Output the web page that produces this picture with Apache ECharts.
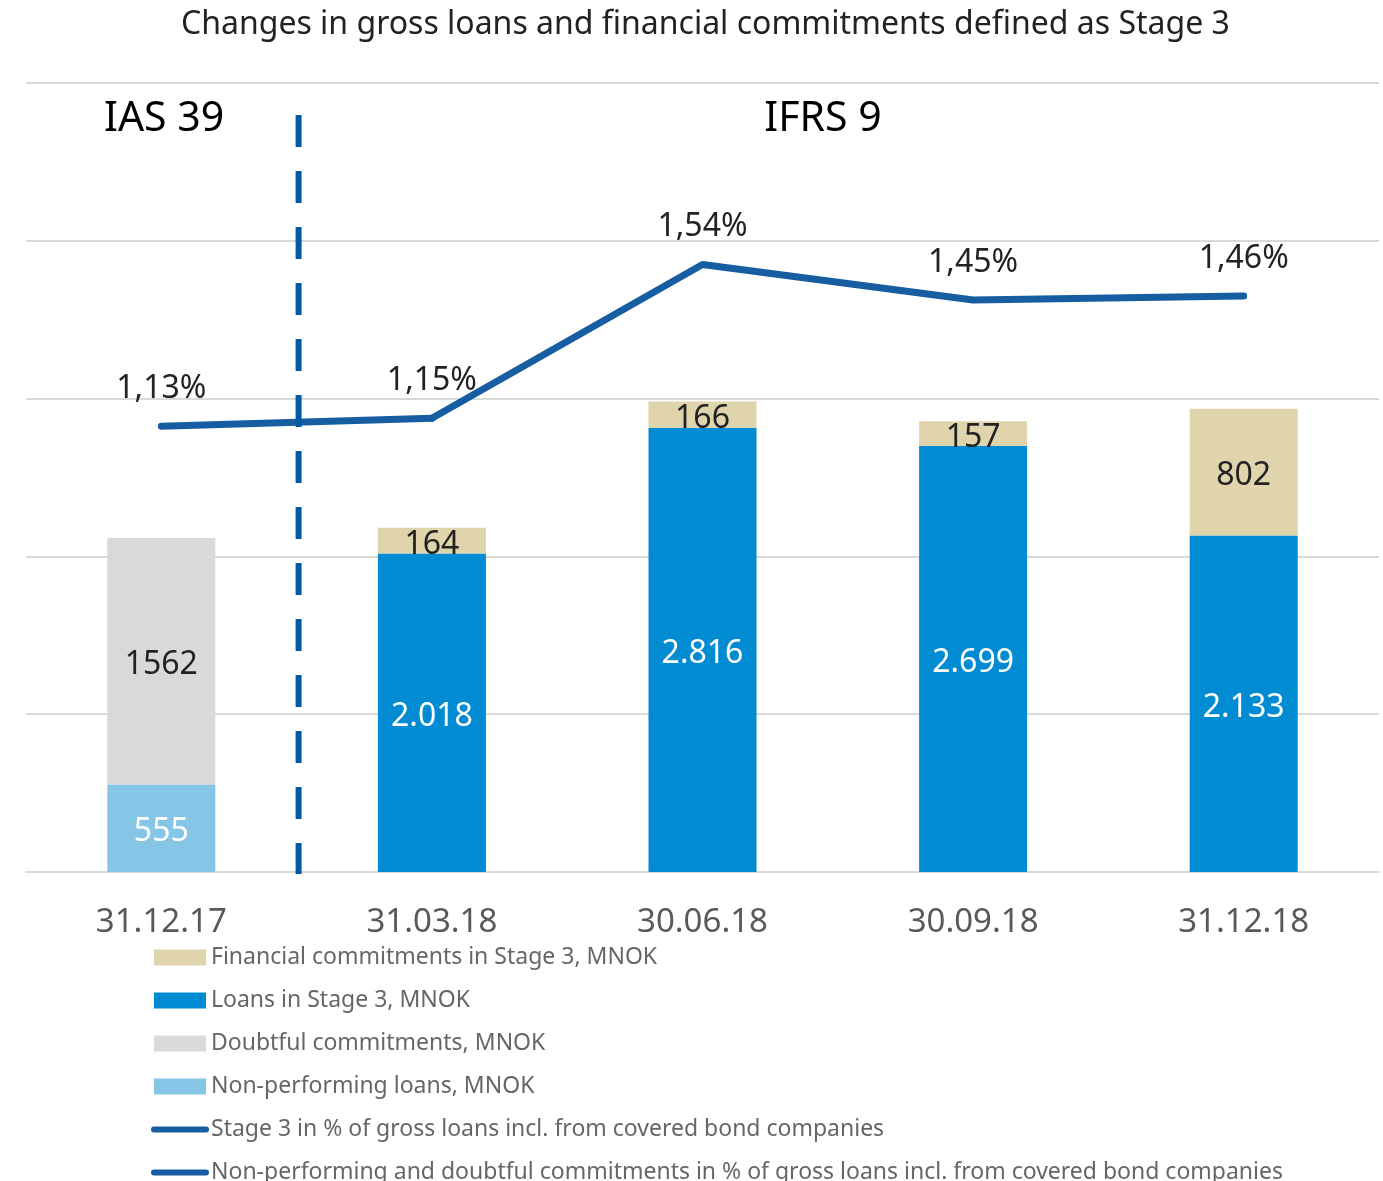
<!DOCTYPE html>
<html>
<head>
<meta charset="utf-8">
<script src="https://cdn.jsdelivr.net/npm/echarts@6/dist/echarts.min.js"></script>
<style>
  html, body { margin: 0; padding: 0; background: #fff; }
  #chart { width: 1383px; height: 1181px; }
</style>
</head>
<body>
<div id="chart"></div>
<script>
// data
const categories = ["31.12.17", "31.03.18", "30.06.18", "30.09.18", "31.12.18"]
const loansStage3 = [null, 2018, 2816, 2699, 2133]
const commitmentsStage3 = [null, 164, 166, 157, 802]
const nonPerforming = [555, null, null, null, null]
const doubtful = [1562, null, null, null, null]
const stage3Pct = [null, 1.15, 1.54, 1.45, 1.46]
const nplPct = [1.13, null, null, null, null]

const names = [
  "Financial commitments in Stage 3, MNOK",
  "Loans in Stage 3, MNOK",
  "Doubtful commitments, MNOK",
  "Non-performing loans, MNOK",
  "Stage 3 in % of gross loans incl. from covered bond companies",
  "Non-performing and doubtful commitments in % of gross loans incl. from covered bond companies"
]

const FONT = "Noto Sans"
const LINE = "#175da2"
const CLEAR = "rgba(0,0,0,0)"
const dotted = v => v >= 1000 ? Math.floor(v / 1000) + "." + String(v % 1000).padStart(3, "0") : String(v)
const plain = v => String(v)
const pct = v => v.toFixed(2).replace(".", ",") + "%"

// the NPL line joins on to the first Stage 3 point
const nplLine = nplPct.map((v, i) => v != null ? v : (i > 0 && nplPct[i - 1] != null ? stage3Pct[i] : null))

const chart = echarts.init(document.getElementById("chart"))

function barLabel(color, fmt) {
  return { show: true, position: "inside", offset: [0, 4], color: color, fontSize: 32, fontFamily: FONT, formatter: p => fmt(p.value) }
}
const lineLabel = { position: "top", distance: 21, fontSize: 32, color: "#222", fontFamily: FONT, formatter: p => pct(p.value) }
const lineLegend = name => ({ name: name, itemStyle: { color: CLEAR, borderColor: CLEAR, borderWidth: 0 },
  lineStyle: { width: 6, cap: "round", color: LINE } })

chart.setOption({
  animation: false,
  textStyle: { fontFamily: FONT },
  title: {
    text: "Changes in gross loans and financial commitments defined as Stage 3",
    left: 176, top: 4,
    textStyle: { fontSize: 32, fontWeight: "normal", color: "#222", fontFamily: FONT }
  },
  grid: { left: 26, right: 4, top: 83, bottom: 309 },
  legend: {
    orient: "vertical", left: 151, top: 946, height: 320, itemGap: 20, padding: 0,
    itemWidth: 52, itemHeight: 16,
    textStyle: { fontSize: 23, color: "#666", fontFamily: FONT },
    data: [
      { name: names[0], icon: "rect" }, { name: names[1], icon: "rect" },
      { name: names[2], icon: "rect" }, { name: names[3], icon: "rect" },
      lineLegend(names[4]), lineLegend(names[5])
    ]
  },
  xAxis: {
    type: "category", data: categories,
    axisLine: { lineStyle: { color: "#d9d9d9", width: 2 } },
    axisTick: { show: false },
    axisLabel: { fontSize: 33, color: "#595959", margin: 34, fontFamily: FONT }
  },
  yAxis: [
    { type: "value", min: 0, max: 5000, interval: 1000, axisLabel: { show: false },
      splitLine: { lineStyle: { color: "#d9d9d9", width: 2 } } },
    { type: "value", min: 0, max: 2, interval: 0.4, axisLabel: { show: false }, splitLine: { show: false } }
  ],
  series: [
    { name: names[1], type: "bar", stack: "a", barWidth: 108, data: loansStage3,
      itemStyle: { color: "#008bd2" }, label: barLabel("#fff", dotted) },
    { name: names[0], type: "bar", stack: "a", data: commitmentsStage3,
      itemStyle: { color: "#e0d4ad" }, label: barLabel("#222", dotted) },
    { name: names[3], type: "bar", stack: "a", data: nonPerforming,
      itemStyle: { color: "#85c5e5" }, label: barLabel("#fff", plain) },
    { name: names[2], type: "bar", stack: "a", data: doubtful,
      itemStyle: { color: "#d9d9d9" }, label: barLabel("#222", plain) },
    { name: names[4], type: "line", yAxisIndex: 1, data: stage3Pct,
      symbol: "circle", symbolSize: 1, showSymbol: true,
      lineStyle: { color: LINE, width: 7, cap: "round" }, itemStyle: { color: CLEAR, borderWidth: 0 }, z: 5,
      label: Object.assign({ show: true }, lineLabel) },
    { name: names[5], type: "line", yAxisIndex: 1,
      symbol: "circle", symbolSize: 1, showSymbol: true,
      data: nplLine.map((v, i) => ({ value: v, label: { show: nplPct[i] != null } })),
      lineStyle: { color: LINE, width: 7, cap: "round" }, itemStyle: { color: CLEAR, borderWidth: 0 }, z: 5,
      label: lineLabel }
  ]
})

// regime divider between the first two categories, plus the two headings
const x0 = chart.convertToPixel({ xAxisIndex: 0 }, 0)
const x1 = chart.convertToPixel({ xAxisIndex: 0 }, 1)
const yBase = chart.convertToPixel({ yAxisIndex: 0 }, 0)
const xDiv = (x0 + x1) / 2 + 2
chart.setOption({
  graphic: [
    { type: "line", z: 10, shape: { x1: xDiv, y1: 115, x2: xDiv, y2: yBase + 2 },
      style: { stroke: "#005aa5", lineWidth: 6, lineDash: [32, 24] } },
    { type: "text", x: 104, y: 119,
      style: { text: "IAS 39", fontSize: 41, fill: "#000", fontFamily: FONT, verticalAlign: "middle" } },
    { type: "text", x: 823, y: 119,
      style: { text: "IFRS 9", fontSize: 41, fill: "#000", fontFamily: FONT, align: "center", verticalAlign: "middle" } }
  ]
})
</script>
</body>
</html>
